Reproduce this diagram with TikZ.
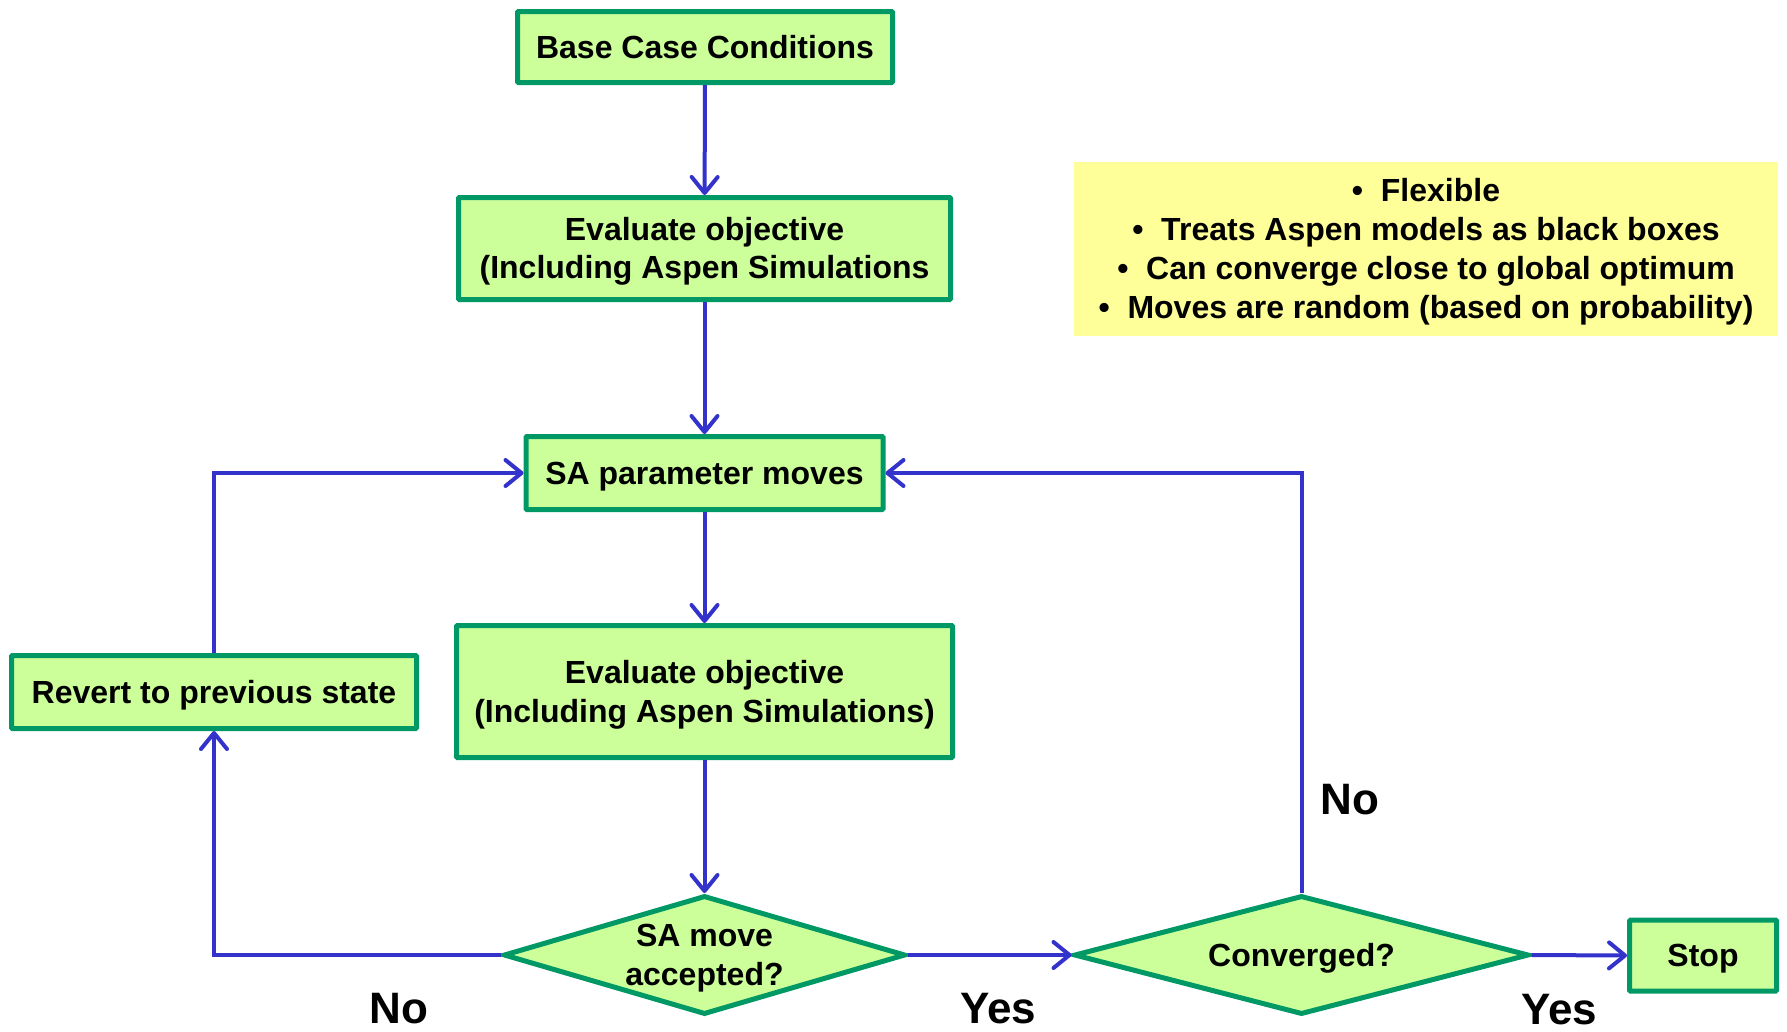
\documentclass[tikz,border=0pt]{standalone}
\usepackage{fontspec}
\setmainfont{Liberation Sans}
\usetikzlibrary{arrows.meta,shapes.geometric}
\definecolor{boxfill}{HTML}{CCFF99}
\definecolor{boxline}{HTML}{009966}
\definecolor{flow}{HTML}{3333CC}
\definecolor{notefill}{HTML}{FFFF99}
% line strut with the font's full ascent and descent, so text sits centred by its line box
\newcommand\linestrut{\rule[-0.212em]{0pt}{1.117em}}
\begin{document}
\begin{tikzpicture}[x=1pt,y=-1pt,
  font=\fontsize{32}{38.8}\selectfont\bfseries,
  boxtext/.style={align=center,
    execute at begin node=\linestrut, execute at end node=\linestrut},
  procbox/.style={boxtext, draw=boxline, fill=boxfill, line width=5pt,
    rounded corners=1pt, inner sep=0pt},
  decision/.style={diamond, draw=boxline, fill=boxfill, line width=5pt,
    inner sep=0pt},
  caption/.style={boxtext, inner sep=0pt},
  flowline/.style={draw=flow, line width=4pt,
    -{Straight Barb[length=16pt,width=26pt,round]}},
  answer/.style={font=\fontsize{44}{50}\selectfont\bfseries}]
\useasboundingbox (0,0) rectangle (1787,1031);

% process boxes
\node[procbox, minimum width=375pt, minimum height=71pt] (base) at (705,47)
  {Base Case Conditions};
\node[procbox, minimum width=492pt, minimum height=102pt] (eval1) at (704.5,248.5)
  {\linestrut Evaluate objective\\(Including Aspen Simulations\linestrut};
\node[procbox, minimum width=357pt, minimum height=73pt] (sa) at (704.5,473)
  {SA parameter moves};
\node[procbox, minimum width=496pt, minimum height=132pt] (eval2) at (704.5,691.5)
  {\linestrut Evaluate objective\\(Including Aspen Simulations)\linestrut};
\node[procbox, minimum width=405pt, minimum height=73pt] (revert) at (214,692)
  {Revert to previous state};
\node[procbox, minimum width=147pt, minimum height=71pt] (stop) at (1703,955.5)
  {Stop};

% decisions: the diamond outline is sized on its own, the question sits on top
\node[decision, minimum width=402pt, minimum height=119pt] (accept) at (704.5,955) {};
\node[caption] (acceptq) at (accept.center) {\linestrut SA move\\accepted?\linestrut};
\node[decision, minimum width=455pt, minimum height=119pt] (conv) at (1301.5,955) {};
\node[caption] (convq) at (conv.center) {Converged?};

% note
\node[boxtext, fill=notefill, minimum width=704pt, minimum height=174pt,
  inner sep=0pt] (note) at (1426,249)
  {\linestrut\textbullet\ \ Flexible\\
   \textbullet\ \ Treats Aspen models as black boxes\\
   \textbullet\ \ Can converge close to global optimum\\
   \textbullet\ \ Moves are random (based on probability)\linestrut};

% connectors
\draw[flowline] (base) -- (eval1);
\draw[flowline] (eval1) -- (sa);
\draw[flowline] (sa) -- (eval2);
\draw[flowline] (eval2) -- (accept.north);
\draw[flowline] (accept.west) -| (revert.south);
\draw[flowline] (revert.north) |- (sa.west);
\draw[flowline] (accept.east) -- (conv.west);
\draw[flowline] (conv.north) |- (sa.east);
\draw[flowline] (conv.east) -- (stop.west);

% branch labels
\node[answer] (noA) at (399,1009) {No};
\node[answer] (yesA) at (998,1009) {Yes};
\node[answer] (noC) at (1350,800) {No};
\node[answer] (yesC) at (1559,1010) {Yes};
\end{tikzpicture}
\end{document}
